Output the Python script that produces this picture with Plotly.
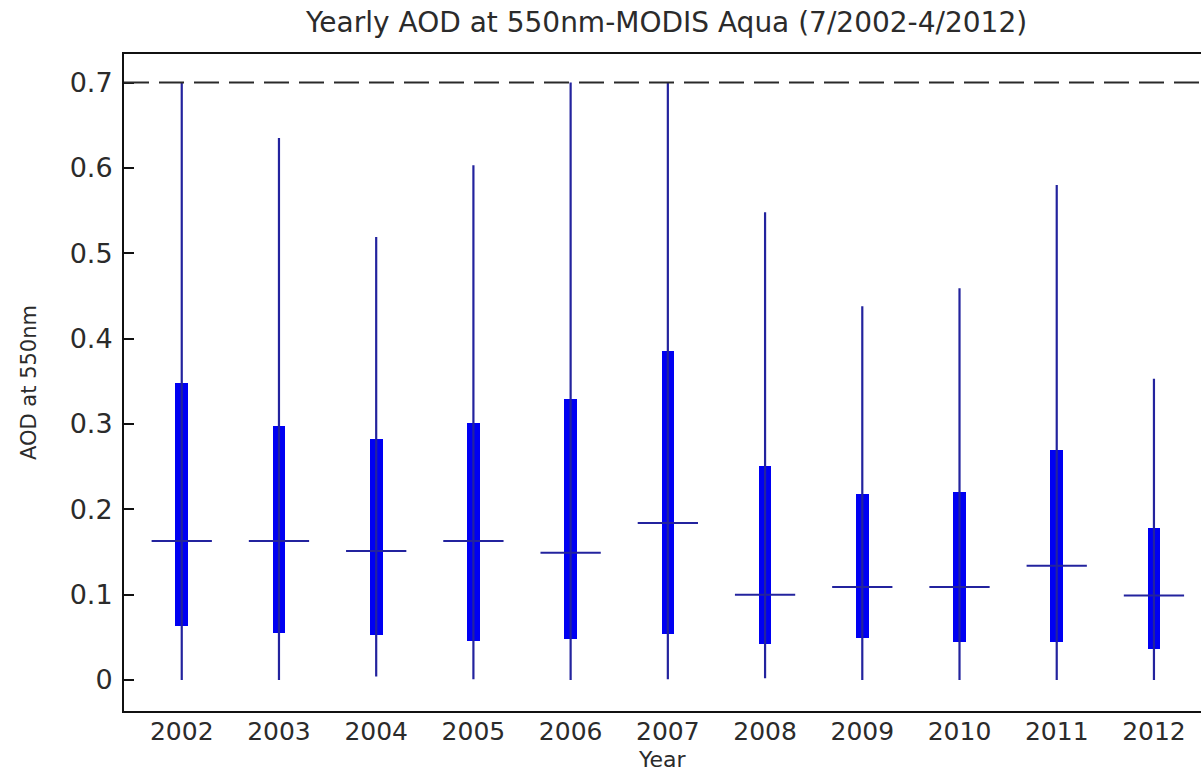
import plotly.graph_objects as go

# Yearly AOD statistics at 550 nm (MODIS Aqua)
years = [2002, 2003, 2004, 2005, 2006, 2007, 2008, 2009, 2010, 2011, 2012]
whisker_low = [0.000, 0.000, 0.004, 0.001, 0.000, 0.001, 0.002, 0.000, 0.000, 0.000, 0.000]
q1 = [0.063, 0.055, 0.053, 0.046, 0.048, 0.054, 0.042, 0.049, 0.044, 0.044, 0.036]
median = [0.163, 0.163, 0.151, 0.163, 0.149, 0.184, 0.100, 0.109, 0.109, 0.134, 0.099]
q3 = [0.348, 0.298, 0.282, 0.301, 0.329, 0.386, 0.251, 0.218, 0.220, 0.270, 0.178]
whisker_high = [0.700, 0.635, 0.519, 0.603, 0.700, 0.700, 0.548, 0.438, 0.459, 0.580, 0.353]
aod_cap = 0.7
y_ticks = [0, 0.1, 0.2, 0.3, 0.4, 0.5, 0.6, 0.7]

box_width = 0.13
median_half = 0.31
font = "DejaVu Sans"
text_color = "#2b2b2b"

W, H = 1201, 772
M_L, M_R, M_T, M_B = 124, 0, 54, 61
plot_h = H - M_T - M_B

# whisker segments
wx, wy = [], []
for x, lo, hi in zip(years, whisker_low, whisker_high):
    wx += [x, x, None]
    wy += [lo, hi, None]

# median ticks
mx, my = [], []
for x, m in zip(years, median):
    mx += [x - median_half, x + median_half, None]
    my += [m, m, None]

fig = go.Figure()
fig.add_trace(go.Scatter(x=wx, y=wy, mode="lines",
                         line=dict(color="#23239e", width=2.2),
                         hoverinfo="skip", showlegend=False))
fig.add_trace(go.Bar(x=years, y=[b - a for a, b in zip(q1, q3)], base=q1,
                     width=box_width, marker=dict(color="#0000f2", line=dict(width=0)),
                     showlegend=False))
fig.add_trace(go.Scatter(x=mx, y=my, mode="lines",
                         line=dict(color="#23239e", width=2),
                         hoverinfo="skip", showlegend=False))

fig.add_shape(type="line", xref="paper", x0=0, x1=1, yref="y", y0=aod_cap, y1=aod_cap,
              line=dict(color="#2a2a2a", width=2, dash="25px,10px"), layer="above")

# x-axis title placed just under the year labels
fig.add_annotation(text="Year", xref="paper", x=(662 - M_L) / (W - M_L - M_R),
                   yref="paper", y=-(759 - (H - M_B)) / plot_h,
                   xanchor="center", yanchor="middle", showarrow=False,
                   font=dict(family=font, size=22, color=text_color))

fig.update_layout(
    width=W, height=H,
    margin=dict(l=M_L, r=M_R, t=M_T, b=M_B),
    paper_bgcolor="white", plot_bgcolor="white",
    title=dict(text="Yearly AOD at 550nm-MODIS Aqua (7/2002-4/2012)",
               x=0.555, xanchor="center", y=1 - 22 / H, yanchor="middle",
               font=dict(family=font, size=28, color=text_color)),
    xaxis=dict(range=[2001.406, 2012.484], tickmode="array", tickvals=years,
               ticktext=[str(y) for y in years], ticks="", showgrid=False,
               zeroline=False, showline=True, linecolor="#111", linewidth=2,
               mirror=True, ticklabelstandoff=-3,
               tickfont=dict(family=font, size=25, color=text_color)),
    yaxis=dict(range=[-0.0363, 0.7334], tickmode="array", tickvals=y_ticks,
               ticktext=["0", "0.1", "0.2", "0.3", "0.4", "0.5", "0.6", "0.7"],
               ticks="inside", ticklen=10, tickwidth=2, tickcolor="#111",
               showgrid=False, zeroline=False, showline=True, linecolor="#111",
               linewidth=2, ticklabelstandoff=4,
               tickfont=dict(family=font, size=27, color=text_color),
               title=dict(text="AOD at 550nm", standoff=27,
                          font=dict(family=font, size=21, color=text_color))),
    bargap=0,
)

fig.write_html("out.html")
